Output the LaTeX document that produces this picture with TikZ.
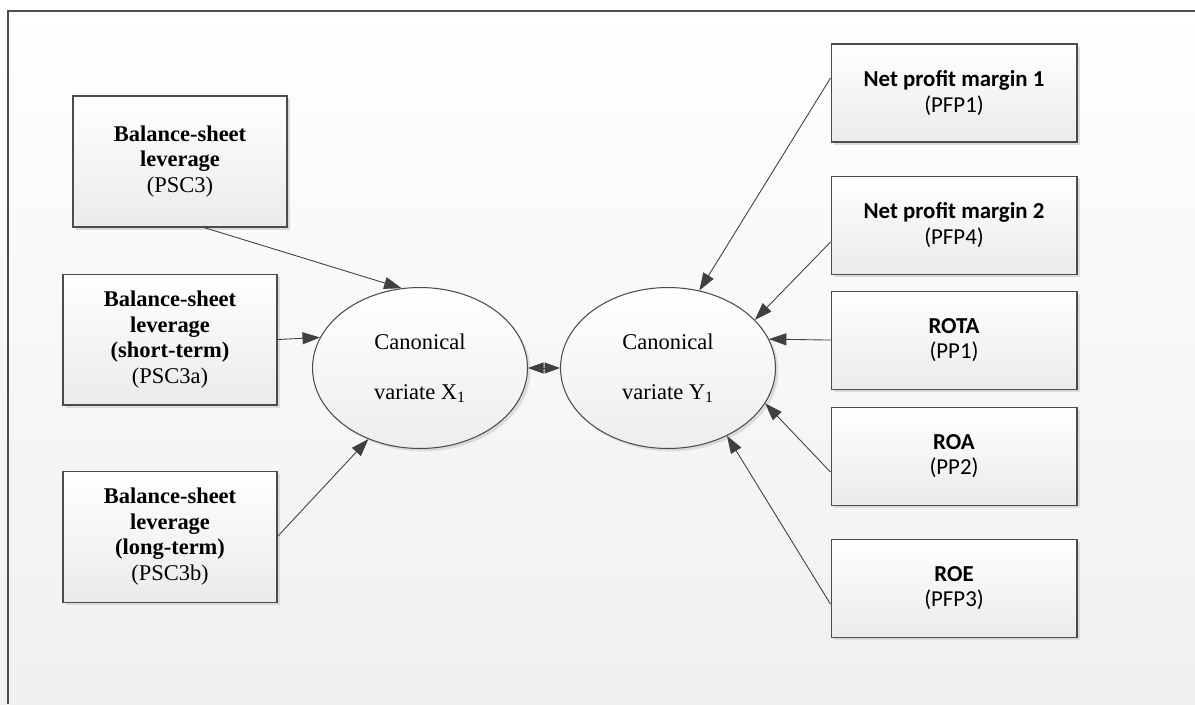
\documentclass[tikz,border=0pt]{standalone}
\usepackage{fontspec}
\setmainfont{Liberation Serif}[BoldFont={Liberation Serif Bold}]
\newfontfamily\calibri{Carlito}[BoldFont={Carlito Bold}]
\usetikzlibrary{shapes.geometric, arrows.meta, positioning, shadows}

\begin{document}
\begin{tikzpicture}[
    x=0.02cm, y=-0.02cm,
    box/.style={draw=black!70, line width=0.6pt, align=center, inner sep=2pt, top color=white, bottom color=black!8, drop shadow={shadow xshift=1.6pt, shadow yshift=-1.6pt, fill=black!14, opacity=1}},
    lbox/.style={box, minimum width=4.28cm, minimum height=2.62cm, font=\fontsize{12.8}{14.7}\selectfont},
    rbox/.style={box, minimum width=4.92cm, minimum height=1.96cm, font=\calibri\fontsize{13}{14.7}\selectfont},
    var/.style={ellipse, draw=black!70, line width=0.6pt, top color=white, bottom color=black!7, drop shadow={shadow xshift=1.6pt, shadow yshift=-1.6pt, fill=black!14, opacity=1}, minimum width=4.3cm, minimum height=3.22cm, inner sep=0pt, align=center, font=\fontsize{12.8}{28.4}\selectfont},
    arr/.style={-{Triangle[length=3.5mm, width=2.4mm]}, draw=black!75, line width=0.5pt},
    dbl/.style={{Triangle[length=3.1mm, width=2.2mm]}-{Triangle[length=3.1mm, width=2.2mm]}, draw=black!75, line width=0.5pt},
    node distance=6.6mm,
]
\useasboundingbox (0,0) rectangle (1195,704);
\shade[top color=white, bottom color=black!6] (0,0) rectangle (1195,704);
\draw[draw=black!70, line width=0.6pt] (8,704) -- (8,11) -- (1195,11);
\node[lbox] (psc3) at (180,161.5) {\textbf{Balance-sheet}\\\textbf{leverage}\\(PSC3)};
\node[lbox, below=9.2mm of psc3, xshift=-2mm] (psc3a) {\textbf{Balance-sheet}\\\textbf{leverage}\\\textbf{(short-term)}\\(PSC3a)};
\node[lbox, below=13mm of psc3a] (psc3b) {\textbf{Balance-sheet}\\\textbf{leverage}\\\textbf{(long-term)}\\(PSC3b)};
\node[var] (x1) at (420,368) {Canonical\\variate X\textsubscript{1}};
\node[var, right=6.4mm of x1] (y1) {Canonical\\variate Y\textsubscript{1}};
\node[rbox] (npm1) at (954,93) {\textbf{Net profit margin 1}\\(PFP1)};
\node[rbox, below=6.6mm of npm1] (npm2) {\textbf{Net profit margin 2}\\(PFP4)};
\node[rbox, below=3.2mm of npm2] (rota) {\textbf{ROTA}\\(PP1)};
\node[rbox, below=3.4mm of rota] (roa) {\textbf{ROA}\\(PP2)};
\node[rbox, below=6.6mm of roa] (roe) {\textbf{ROE}\\(PFP3)};
\draw[arr] ([xshift=4.8mm]psc3.south) -- (x1.103);
\draw[arr] (psc3a.east) -- (x1.163);
\draw[arr] (psc3b.east) -- (x1.234);
\draw[dbl] (x1.east) -- (y1.west);
\draw[arr] ([yshift=3mm]npm1.west) -- (y1.68);
\draw[arr] ([yshift=-3.4mm]npm2.west) -- (y1.29);
\draw[arr] (rota.west) -- (y1.16);
\draw[arr] ([yshift=-3.2mm]roa.west) -- (y1.340);
\draw[arr] ([yshift=-3.2mm]roe.west) -- (y1.311);
\end{tikzpicture}
\end{document}
